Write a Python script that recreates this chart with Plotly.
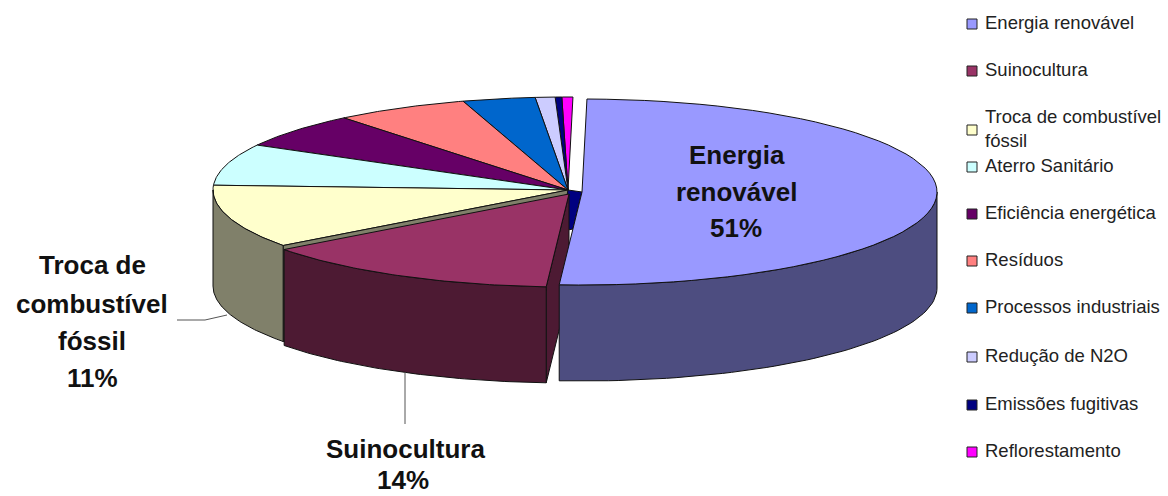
import numpy as np
import plotly.graph_objects as go

categories = ["Energia renovável", "Suinocultura", "Troca de combustível<br>fóssil",
              "Aterro Sanitário", "Eficiência energética", "Resíduos",
              "Processos industriais", "Redução de N2O", "Emissões fugitivas",
              "Reflorestamento"]
values = [50.8, 13.8, 11, 7.2, 6.1, 6.1, 3.3, 0.9, 0.3, 0.5]
top_colors = ["#9999FF", "#993366", "#FFFFCC", "#CCFFFF", "#660066",
              "#FF8080", "#0066CC", "#CCCCFF", "#000080", "#FF00FF"]
side_colors = {0: "#4D4D80", 1: "#4D1A33", 2: "#80806A"}
legend_y = [24, 71, 130, 167, 214, 261, 308, 357, 405, 452]

CX, CY, RX, RY, DEPTH, ROT = 568, 190, 355, 93, 96, 0.8
offsets = {0: (14, 2), 1: (1, 4)}   # exploded slices

fractions = np.array(values) / sum(values) * 360
ends = np.cumsum(fractions) + ROT
starts = ends - fractions


def pt(c, a):
    a = np.radians(a)
    return c[0] + RX * np.sin(a), c[1] - RY * np.cos(a)


def centre(i):
    dx, dy = offsets.get(i, (0, 0))
    return CX + dx, CY + dy


fig = go.Figure()


def poly(xs, ys, color, lw=1.0):
    fig.add_trace(go.Scatter(x=list(xs), y=list(ys), mode="lines", fill="toself",
                             fillcolor=color, line=dict(color="#111111", width=lw),
                             hoverinfo="skip", showlegend=False))


def top(i):
    c = centre(i)
    t = np.linspace(starts[i], ends[i], 60)
    x, y = pt(c, t)
    poly([c[0], *x, c[0]], [c[1], *y, c[1]], top_colors[i])


def wall(i, angle):
    c = centre(i)
    x, y = pt(c, angle)
    poly([c[0], x, x, c[0], c[0]],
         [c[1], y, y + DEPTH, c[1] + DEPTH, c[1]], side_colors[i])


def rim(i):
    c = centre(i)
    a0, a1 = max(starts[i], 90), min(ends[i], 270)
    t = np.linspace(a0, a1, 60)
    x, y = pt(c, t)
    poly([*x, *x[::-1], x[0]], [*y, *(y[::-1] + DEPTH), y[0]], side_colors[i])


# main body, back to front
for i in range(9, 1, -1):
    top(i)
wall(2, starts[2])
rim(2)

# dark sliver of the hub seen between the two exploded slices
c0, c1 = centre(0), centre(1)
p0, p1 = pt(c0, ends[0]), pt(c1, starts[1])
poly([CX, c0[0], c0[0] + (p0[0] - c0[0]) * 0.4, c1[0] + (p1[0] - c1[0]) * 0.4, CX],
     [CY, c0[1], c0[1] + (p0[1] - c0[1]) * 0.4, c1[1] + (p1[1] - c1[1]) * 0.4, CY], "#000080")

# exploded slices
wall(1, starts[1])
rim(1)
top(1)
rim(0)
top(0)

# leader lines
leaders = [([177, 205, 227], [320, 320, 315]), ([405, 405], [372, 424])]
for lx, ly in leaders:
    fig.add_trace(go.Scatter(x=lx, y=ly, mode="lines", line=dict(color="#555555", width=1),
                             hoverinfo="skip", showlegend=False))

# legend
fig.add_trace(go.Scatter(
    x=[972] * len(categories), y=legend_y, mode="markers",
    marker=dict(symbol="square", size=10, color=top_colors, line=dict(color="#222222", width=1)),
    hoverinfo="skip", showlegend=False))
fig.add_trace(go.Scatter(
    x=[985] * len(categories), y=legend_y, mode="text",
    text=categories, textposition="middle right",
    textfont=dict(family="Liberation Sans", size=18.5, color="#222222"),
    hoverinfo="skip", showlegend=False))

# bold data labels
label_lines = [
    ("Energia", 737, 155), ("renovável", 736, 192), ("51%", 736, 228),
    ("Troca de", 92, 265), ("combustível", 92, 304), ("fóssil", 92, 341), ("11%", 92, 378),
    ("Suinocultura", 405, 449), ("14%", 403, 480),
]
for txt, x, y in label_lines:
    fig.add_annotation(x=x, y=y, text=txt, showarrow=False, xanchor="center", yanchor="middle",
                       font=dict(family="Liberation Sans", size=26, color="#111111", weight="bold"))

fig.update_layout(
    width=1168, height=496, margin=dict(l=0, r=0, t=0, b=0),
    paper_bgcolor="white", plot_bgcolor="white", showlegend=False,
    xaxis=dict(range=[0, 1168], visible=False, fixedrange=True),
    yaxis=dict(range=[496, 0], visible=False, fixedrange=True),
)
fig.write_html("out.html", config={"displayModeBar": False},
               post_script="document.body.style.margin='0';")
